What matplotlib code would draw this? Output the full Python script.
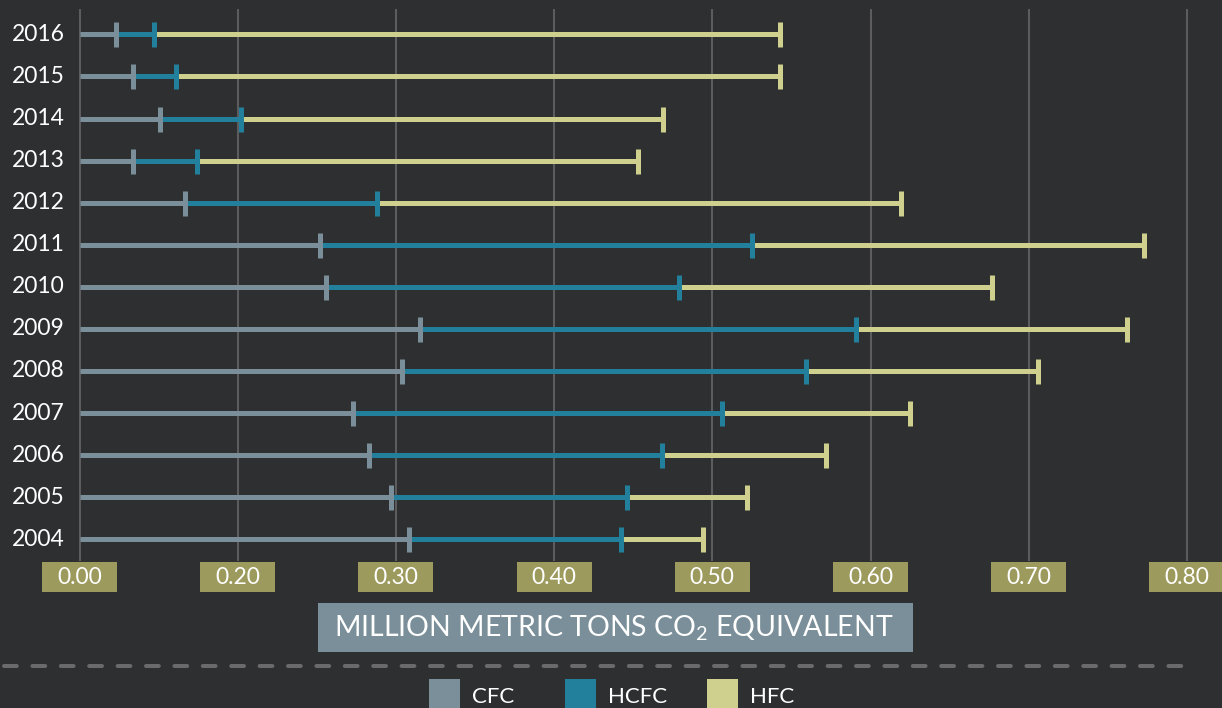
import matplotlib
matplotlib.use("Agg")
import matplotlib.pyplot as plt
from matplotlib.patches import Rectangle
from matplotlib.lines import Line2D
import matplotlib.transforms as mtransforms

plt.rcParams['font.family'] = ['Lato', 'DejaVu Sans']
plt.rcParams['mathtext.default'] = 'regular'

# Data: amount per refrigerant group, stacked end to end for each year
years = [2016, 2015, 2014, 2013, 2012, 2011, 2010, 2009, 2008, 2007, 2006, 2005, 2004]
cfc = [0.023, 0.034, 0.051, 0.034, 0.067, 0.152, 0.156, 0.215, 0.204, 0.173, 0.183, 0.197, 0.208]
hcfc = [0.024, 0.027, 0.051, 0.040, 0.121, 0.273, 0.223, 0.276, 0.255, 0.233, 0.185, 0.149, 0.134]
hfc = [0.396, 0.382, 0.267, 0.279, 0.331, 0.248, 0.198, 0.171, 0.147, 0.119, 0.104, 0.076, 0.052]
series_names = ["CFC", "HCFC", "HFC"]
tick_values = [0.0, 0.1, 0.2, 0.3, 0.4, 0.5, 0.6, 0.7]
tick_labels = ["0.00", "0.20", "0.30", "0.40", "0.50", "0.60", "0.70", "0.80"]
axis_title = "MILLION METRIC TONS CO$_2$ EQUIVALENT"

BG = "#2e2f31"
COLORS = ["#7a8f99", "#23809c", "#cfd08d"]
GRID = "#5c5c5e"
TICK_BOX = "#9d9a5e"
W, H = 1222, 708


def fx(px):
    return px / W


def fy(py):
    return 1 - py / H


fig = plt.figure(figsize=(W / 100, H / 100), dpi=100, facecolor=BG)
ax = fig.add_axes([fx(60), fy(561), fx(1210) - fx(60), (561 - 9) / H])
ax.set_facecolor(BG)
for s in ax.spines.values():
    s.set_visible(False)
ax.set_xticks([])
ax.set_yticks([])

px_per_unit = 1582.0
ax.set_xlim((60 - 79.5) / px_per_unit, (1210 - 79.5) / px_per_unit)
row_step = 42.08
ax.set_ylim((539.3 - 561) / row_step, (539.3 - 9) / row_step)

# vertical grid lines
for t in tick_values:
    ax.axvline(t, color=GRID, lw=1.5, zorder=1)

n = len(years)
ypos = [n - 1 - i for i in range(n)]
line_w = 5 * 0.72
cap_size = 25 * 0.72

for i, y in enumerate(ypos):
    start = 0.0
    ends = []
    for k, seg in enumerate((cfc[i], hcfc[i], hfc[i])):
        end = start + seg
        ax.plot([start, end], [y, y], color=COLORS[k], lw=line_w,
                solid_capstyle="butt", zorder=2 + k * 0.1)
        ends.append(end)
        start = end
    for k, e in enumerate(ends):
        ax.plot([e], [y], marker="|", ms=cap_size, mew=line_w,
                color=COLORS[k], zorder=4 + k * 0.1)
    ax.text(-0.0092, y, str(years[i]), ha="right", va="center",
            color="white", fontsize=16.5, clip_on=False)

# tick label boxes under each grid line
trans = mtransforms.blended_transform_factory(ax.transData, ax.transAxes)
ax_h = 561 - 9
box_w = 75 / px_per_unit
for t, lab in zip(tick_values, tick_labels):
    ax.add_patch(Rectangle((t - box_w / 2, (561 - 592) / ax_h), box_w, 30 / ax_h,
                           transform=trans, facecolor=TICK_BOX, edgecolor="none",
                           clip_on=False, zorder=5))
    ax.text(t, (561 - 577.5) / ax_h, lab, transform=trans, ha="center", va="center",
            color="white", fontsize=16.5, zorder=6, clip_on=False)

# axis title box
fig.patches.append(Rectangle((fx(318), fy(652)), fx(913) - fx(318), (652 - 603) / H,
                             transform=fig.transFigure, facecolor=COLORS[0],
                             edgecolor="none"))
fig.text(fx(614), fy(628), axis_title, ha="center", va="center", color="white",
         fontsize=20.5)

# dashed separator
fig.lines.append(Line2D([fx(4), fx(1188)], [fy(666), fy(666)], transform=fig.transFigure,
                        color="#6a6a6c", lw=4 * 0.72, dashes=(3.2, 3.9),
                        dash_capstyle="round"))

# legend
legend_x = [429, 565, 707]
for k, (lx, name) in enumerate(zip(legend_x, series_names)):
    fig.patches.append(Rectangle((fx(lx), fy(712)), 31 / W, (712 - 679) / H,
                                 transform=fig.transFigure, facecolor=COLORS[k],
                                 edgecolor="none"))
    fig.text(fx(lx + 43), fy(703), name, ha="left", va="baseline", color="white",
             fontsize=16)

fig.savefig("out.png", dpi=100, facecolor=BG)
